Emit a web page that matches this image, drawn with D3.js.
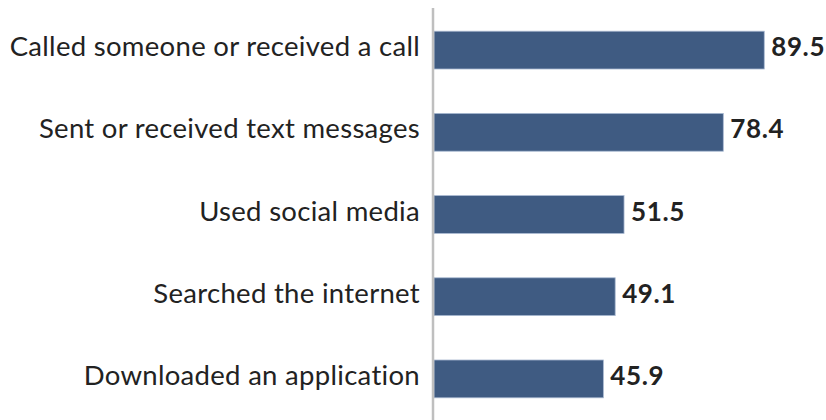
<!DOCTYPE html>
<html>
<head>
<meta charset="utf-8">
<script src="https://cdn.jsdelivr.net/npm/d3@7"></script>
<style>
body { margin: 0; background: #fff; }
</style>
</head>
<body>
<script>
var categories = ["Called someone or received a call", "Sent or received text messages", "Used social media", "Searched the internet", "Downloaded an application"];
var values = [89.5, 78.4, 51.5, 49.1, 45.9];

var width = 826, height = 420;
var axisX = 433;

var svg = d3.select("body").append("svg")
    .attr("width", width)
    .attr("height", height);

var data = categories.map(function(c, i) { return {name: c, value: values[i]}; });

var xScale = d3.scaleLinear().domain([0, 100]).range([axisX + 1, axisX + 1 + 369]);
var yScale = d3.scaleBand().domain(categories).range([9, 420]).paddingInner(0.54).paddingOuter(0.27);

// bars
svg.selectAll(".bar").data(data).enter().append("rect")
    .attr("class", "bar")
    .attr("x", xScale(0))
    .attr("y", function(d) { return yScale(d.name); })
    .attr("width", function(d) { return xScale(d.value) - xScale(0); })
    .attr("height", yScale.bandwidth())
    .attr("fill", "#3f5b82")
    .attr("stroke", "#a9b9d1")
    .attr("stroke-width", 0.8);

// category labels
svg.selectAll(".cat").data(data).enter().append("text")
    .attr("class", "cat")
    .attr("x", axisX - 13)
    .attr("y", function(d) { return yScale(d.name) + yScale.bandwidth() / 2 + 6; })
    .attr("text-anchor", "end")
    .attr("font-family", "Lato, 'Open Sans', sans-serif")
    .attr("font-size", 27.5)
    .attr("letter-spacing", 0.3)
    .attr("fill", "#222")
    .text(function(d) { return d.name; });

// value labels
svg.selectAll(".val").data(data).enter().append("text")
    .attr("class", "val")
    .attr("x", function(d) { return xScale(d.value) + 7; })
    .attr("y", function(d) { return yScale(d.name) + yScale.bandwidth() / 2 + 6; })
    .attr("font-family", "Lato, 'Open Sans', sans-serif")
    .attr("font-weight", "bold")
    .attr("font-size", 26)
    .attr("letter-spacing", 0.6)
    .attr("fill", "#222")
    .text(function(d) { return d.value.toFixed(1); });

// axis line
svg.append("line")
    .attr("x1", axisX).attr("x2", axisX)
    .attr("y1", 8).attr("y2", 420)
    .attr("stroke", "#bfbfbf")
    .attr("stroke-width", 2.5);
</script>
</body>
</html>
